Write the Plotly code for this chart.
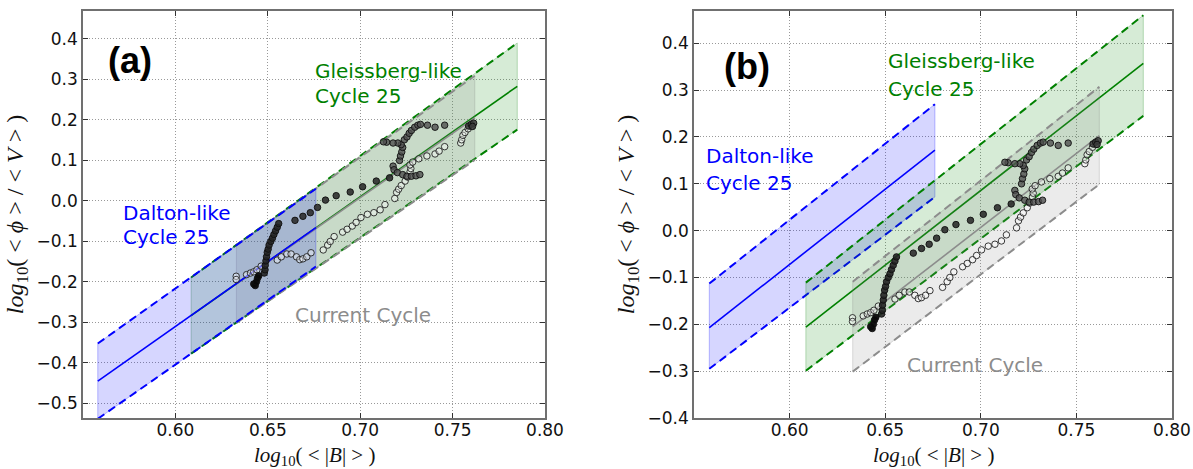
import plotly.graph_objects as go
from plotly.subplots import make_subplots

# ---------------- observed points: log10(<|B|>) , log10(<phi>/<V>) ----------------
OPEN_X = [0.6329, 0.6329, 0.6385, 0.6406, 0.6424, 0.6441, 0.6464, 0.6551, 0.6573, 0.6603,
          0.6626, 0.6655, 0.6673, 0.6690, 0.6711, 0.6734, 0.6800, 0.6824, 0.6838, 0.6859,
          0.6905, 0.6929, 0.6957, 0.6978, 0.7004, 0.7039, 0.7074, 0.7108, 0.7134, 0.7187,
          0.7197, 0.7208, 0.7222, 0.7243, 0.7256, 0.7270, 0.7274, 0.7269, 0.7284, 0.7317,
          0.7361, 0.7405, 0.7427, 0.7457, 0.7544, 0.7549, 0.7556, 0.7567, 0.7584, 0.7601]
OPEN_Y = [-0.186, -0.194, -0.182, -0.178, -0.175, -0.170, -0.161, -0.146, -0.138, -0.131,
          -0.131, -0.138, -0.145, -0.143, -0.138, -0.128, -0.121, -0.109, -0.100, -0.088,
          -0.077, -0.070, -0.062, -0.053, -0.041, -0.033, -0.029, -0.022, -0.009, 0.006,
          0.021, 0.029, 0.038, 0.049, 0.059, 0.072, 0.080, 0.089, 0.096, 0.104,
          0.111, 0.116, 0.123, 0.134, 0.143, 0.151, 0.162, 0.169, 0.178, 0.184]

# filled points, split by segment
FILL_BLACK_X = [0.6424, 0.6432, 0.6438, 0.6444, 0.6451]
FILL_BLACK_Y = [-0.205, -0.209, -0.200, -0.191, -0.185]

FILL_RISE_X = [0.6481, 0.6485, 0.6486, 0.6490, 0.6493, 0.6497, 0.6502, 0.6507, 0.6516, 0.6525,
               0.6533, 0.6542, 0.6551, 0.6559]
FILL_RISE_Y = [-0.178, -0.170, -0.159, -0.148, -0.138, -0.127, -0.119, -0.109, -0.100, -0.092,
               -0.083, -0.074, -0.065, -0.056]

FILL_DIAG_X = [0.6647, 0.6690, 0.6730, 0.6769, 0.6812, 0.6870, 0.6946, 0.7013, 0.7087, 0.7159]
FILL_DIAG_Y = [-0.048, -0.038, -0.029, -0.016, 0.002, 0.013, 0.022, 0.035, 0.049, 0.057]

FILL_S_X = [0.7178, 0.7183, 0.7201, 0.7230, 0.7253, 0.7277, 0.7302, 0.7323,
            0.7213, 0.7218, 0.7225, 0.7230, 0.7222,
            0.7204, 0.7178, 0.7143, 0.7126,
            0.7239, 0.7253, 0.7265, 0.7277, 0.7295, 0.7312, 0.7326, 0.7364, 0.7405, 0.7457]
FILL_S_Y = [0.086, 0.077, 0.070, 0.065, 0.061, 0.061, 0.062, 0.065,
            0.100, 0.111, 0.121, 0.132, 0.139,
            0.143, 0.143, 0.145, 0.146,
            0.151, 0.158, 0.167, 0.174, 0.182, 0.187, 0.189, 0.187, 0.182, 0.187]

FILL_END_X = [0.7587, 0.7601, 0.7614, 0.7608]
FILL_END_Y = [0.185, 0.189, 0.192, 0.184]

# ---------------- scaling bands (x ends, centre / upper / lower at each end) ----------------
DALTON_X = [0.558, 0.676]
GLEISS_X = [0.6085, 0.785]
CURRENT_X = [0.633, 0.762]

A_DALTON_MID, A_DALTON_UP, A_DALTON_LO = [-0.445, -0.066], [-0.352, 0.030], [-0.538, -0.162]
A_GLEISS_MID, A_GLEISS_UP, A_GLEISS_LO = [-0.283, 0.283], [-0.189, 0.390], [-0.377, 0.176]
A_CURRENT_MID, A_CURRENT_UP, A_CURRENT_LO = [-0.205, 0.205], [-0.109, 0.309], [-0.301, 0.101]

B_DALTON_MID, B_DALTON_UP, B_DALTON_LO = [-0.207, 0.172], [-0.113, 0.270], [-0.295, 0.072]
B_GLEISS_MID, B_GLEISS_UP, B_GLEISS_LO = [-0.206, 0.357], [-0.111, 0.460], [-0.299, 0.245]
B_CURRENT_MID, B_CURRENT_UP, B_CURRENT_LO = [-0.205, 0.203], [-0.109, 0.307], [-0.301, 0.099]

X_TICKS = [0.60, 0.65, 0.70, 0.75, 0.80]
A_Y_TICKS = [-0.5, -0.4, -0.3, -0.2, -0.1, 0.0, 0.1, 0.2, 0.3, 0.4]
B_Y_TICKS = [-0.4, -0.3, -0.2, -0.1, 0.0, 0.1, 0.2, 0.3, 0.4]

BLUE = (0, 0, 255)
GREEN = (0, 128, 0)
GREY = (128, 128, 128)


def rgba(c, a):
    return f"rgba({c[0]},{c[1]},{c[2]},{a})"


fig = make_subplots(rows=1, cols=2)


def add_band(col, xs, mid, up, lo, c, line_c):
    fig.add_trace(go.Scatter(
        x=[xs[0], xs[1], xs[1], xs[0], xs[0]],
        y=[lo[0], lo[1], up[1], up[0], lo[0]],
        mode="lines", fill="toself", fillcolor=rgba(c, 0.16),
        line=dict(color=rgba(c, 0.25), width=1),
        hoverinfo="skip", showlegend=False), row=1, col=col)
    fig.add_trace(go.Scatter(x=xs, y=mid, mode="lines",
                             line=dict(color=line_c, width=1.6),
                             hoverinfo="skip", showlegend=False), row=1, col=col)
    for edge in (up, lo):
        fig.add_trace(go.Scatter(x=xs, y=edge, mode="lines",
                                 line=dict(color=line_c, width=2, dash="8px,5px"),
                                 hoverinfo="skip", showlegend=False), row=1, col=col)


def add_points(col):
    fig.add_trace(go.Scatter(
        x=OPEN_X, y=OPEN_Y, mode="markers",
        marker=dict(size=6.5, color="rgba(255,255,255,0.4)",
                    line=dict(color="rgba(25,25,25,0.85)", width=1)),
        showlegend=False), row=1, col=col)
    groups = [
        (FILL_RISE_X, FILL_RISE_Y, "rgba(35,35,35,0.9)"),
        (FILL_DIAG_X, FILL_DIAG_Y, "rgba(45,45,45,0.9)"),
        (FILL_S_X, FILL_S_Y, "rgba(80,80,80,0.8)"),
        (FILL_END_X, FILL_END_Y, "rgba(60,60,60,0.85)"),
        (FILL_BLACK_X, FILL_BLACK_Y, "rgba(10,10,10,0.95)"),
    ]
    for gx, gy, fc in groups:
        fig.add_trace(go.Scatter(
            x=gx, y=gy, mode="markers",
            marker=dict(size=6.5, color=fc, line=dict(color="rgba(15,15,15,0.9)", width=1)),
            showlegend=False), row=1, col=col)


# panel (a): all bands along the current-cycle relation
add_band(1, GLEISS_X, A_GLEISS_MID, A_GLEISS_UP, A_GLEISS_LO, GREEN, "#008000")
add_band(1, CURRENT_X, A_CURRENT_MID, A_CURRENT_UP, A_CURRENT_LO, GREY, "#8c8c8c")
add_band(1, DALTON_X, A_DALTON_MID, A_DALTON_UP, A_DALTON_LO, BLUE, "#0000ff")
add_points(1)

# panel (b): bands shifted
add_band(2, DALTON_X, B_DALTON_MID, B_DALTON_UP, B_DALTON_LO, BLUE, "#0000ff")
add_band(2, GLEISS_X, B_GLEISS_MID, B_GLEISS_UP, B_GLEISS_LO, GREEN, "#008000")
add_band(2, CURRENT_X, B_CURRENT_MID, B_CURRENT_UP, B_CURRENT_LO, GREY, "#8c8c8c")
add_points(2)

W, H = 1193, 469
TOP = 11
PLOT_H = H - TOP          # paper area below the top margin
Y_DOMAIN = [51 / PLOT_H, 1.0]
A_DOM = [83 / W, 545 / W]
B_DOM = [694 / W, 1172 / W]

tick_font = dict(family="DejaVu Sans", size=17, color="#111")
x_title_font = dict(family="Liberation Serif", size=21, color="#111")
y_title_font = dict(family="Liberation Serif", size=24, color="#111")
x_title = "<i>log</i><sub>10</sub>( &lt; |<i>B</i>| &gt; )"
y_title = "<i>log</i><sub>10</sub>( &lt; <i>ϕ</i> &gt; / &lt; <i>V</i> &gt; )"

axis_common = dict(showline=True, linecolor="#707070", linewidth=1.5, mirror="ticks",
                   ticks="inside", ticklen=5, tickcolor="#333", tickwidth=1,
                   showgrid=True, gridcolor="#999999", griddash="1px,2px", gridwidth=1,
                   zeroline=False, tickfont=tick_font, automargin=False)

fig.update_xaxes(range=[0.55, 0.80], tickvals=X_TICKS, tickformat=".2f",
                 ticklabelstandoff=-4, **axis_common)
fig.update_layout(
    xaxis=dict(domain=A_DOM),
    xaxis2=dict(domain=B_DOM),
    yaxis=dict(domain=Y_DOMAIN, range=[-0.536, 0.469], tickvals=A_Y_TICKS, tickformat=".1f",
               title=dict(text=y_title, font=y_title_font, standoff=6), **axis_common),
    yaxis2=dict(domain=Y_DOMAIN, range=[-0.4, 0.469], tickvals=B_Y_TICKS, tickformat=".1f",
                title=dict(text=y_title, font=y_title_font, standoff=6), **axis_common),
    width=W, height=H, margin=dict(l=0, r=0, t=TOP, b=0),
    paper_bgcolor="white", plot_bgcolor="white", showlegend=False,
)

# x-axis titles below the tick labels
for dom in (A_DOM, B_DOM):
    fig.add_annotation(x=(dom[0] + dom[1]) / 2, y=(H - 456) / PLOT_H, xref="paper", yref="paper",
                       text=x_title, showarrow=False, xanchor="center", yanchor="middle",
                       borderpad=0, font=x_title_font)

label_font = dict(family="DejaVu Sans", size=20)
notes = [
    ("x", "y", 0.5754, 0.347, "<b>(a)</b>", dict(family="Liberation Sans", size=36, color="black")),
    ("x", "y", 0.6745, 0.320, "Gleissberg-like", dict(label_font, color="#008000")),
    ("x", "y", 0.6745, 0.260, "Cycle 25", dict(label_font, color="#008000")),
    ("x", "y", 0.5705, -0.031, "Dalton-like", dict(label_font, color="#0000ff")),
    ("x", "y", 0.5705, -0.089, "Cycle 25", dict(label_font, color="#0000ff")),
    ("x", "y", 0.6635, -0.282, "Current Cycle", dict(label_font, color="#8c8c8c")),
    ("x2", "y2", 0.5777, 0.350, "<b>(b)</b>", dict(family="Liberation Sans", size=36, color="black")),
    ("x2", "y2", 0.6504, 0.362, "Gleissberg-like", dict(label_font, color="#008000")),
    ("x2", "y2", 0.6504, 0.303, "Cycle 25", dict(label_font, color="#008000")),
    ("x2", "y2", 0.5552, 0.160, "Dalton-like", dict(label_font, color="#0000ff")),
    ("x2", "y2", 0.5552, 0.101, "Cycle 25", dict(label_font, color="#0000ff")),
    ("x2", "y2", 0.6603, -0.287, "Current Cycle", dict(label_font, color="#8c8c8c")),
]
for xr, yr, ax, ay, txt, fnt in notes:
    anchor = "center" if txt.startswith("<b>") else "left"
    fig.add_annotation(x=ax, y=ay, xref=xr, yref=yr, text=txt, showarrow=False,
                       xanchor=anchor, yanchor="middle", font=fnt)

fig.write_html("out.html")
